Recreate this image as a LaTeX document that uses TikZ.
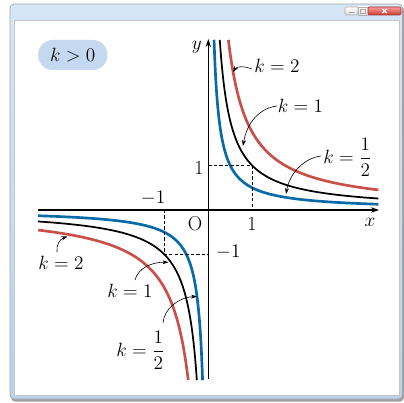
\documentclass[tikz,border=0pt]{standalone}
\usepackage{amsmath}
\usetikzlibrary{arrows.meta}
\definecolor{kred}{RGB}{200,80,75}
\definecolor{kblue}{RGB}{8,106,166}
\definecolor{pill}{RGB}{196,216,240}
\definecolor{frameblue}{RGB}{186,210,236}
\definecolor{frametop}{RGB}{214,230,247}
\definecolor{closered}{RGB}{196,64,52}
\newcommand\hypcurve[3]{%
  \draw[#3] plot[variable=\t,domain=-#2:#2,samples=140] ({208.3+44.2*sqrt(#1)*exp(\t)},{210-44.2*sqrt(#1)*exp(-\t)});
  \draw[#3] plot[variable=\t,domain=-#2:#2,samples=140] ({208.3-44.2*sqrt(#1)*exp(\t)},{210+44.2*sqrt(#1)*exp(-\t)});
}
\begin{document}
\begin{tikzpicture}[x=0.75pt,y=-0.75pt,
  lab/.style={font=\fontsize{13.5}{16}\selectfont, inner sep=0pt},
  num/.style={font=\fontsize{15}{18}\selectfont, inner sep=0pt},
  ptr/.style={line width=0.45pt, -{Stealth[length=4.5pt,width=3pt]}},
  axisline/.style={line width=0.8pt, -{Stealth[length=6pt,width=4pt]}},
  guide/.style={line width=0.55pt, dash pattern=on 2.5pt off 1.6pt},
  curvered/.style={kred, line width=2pt},
  curveblack/.style={black, line width=1.3pt},
  curveblue/.style={kblue, line width=2pt},
  winbtn/.style={top color=white, bottom color=gray!30, draw=gray!60},
]
\useasboundingbox (0,0) rectangle (404,403);
% window frame
\fill[gray!75, rounded corners=3pt] (11,6) rectangle (404,401.5);
\shade[top color=frametop, bottom color=frameblue, draw=gray!70, line width=0.5pt, rounded corners=3pt] (10,4) rectangle (402.5,399);
\fill[white, draw=gray!45, line width=0.5pt] (14,20) rectangle (399.5,395);
% window buttons
\shade[winbtn, rounded corners=1pt] (345,7) rectangle (358,15);
\shade[winbtn] (358,7) rectangle (368,15);
\shade[top color=red!40!white, bottom color=closered, draw=closered!80!black, rounded corners=1pt] (368,7) rectangle (401,15);
\draw[gray!70, line width=0.8pt] (349,12.5) -- (354,12.5);
\draw[gray!70, line width=0.6pt] (360.5,9) rectangle (365.5,13);
\draw[white, line width=0.9pt] (382.5,9) -- (386.5,13) (382.5,13) -- (386.5,9);
% badge
\node[fill=pill, rounded corners=11pt, minimum width=52pt, minimum height=22.5pt, inner sep=0pt,
      font=\fontsize{14.5}{17}\selectfont] (badge) at (72.8,55) {$k>0$};
% curves
\hypcurve{1.75}{1.068}{curvered}
\hypcurve{1}{1.348}{curveblack}
\hypcurve{0.5}{1.695}{curveblue}
% axes
\coordinate (xs) at (38,210); \coordinate (xe) at (379,210);
\coordinate (ys) at (208.3,379); \coordinate (ye) at (208.3,39);
\draw[axisline] (xs) -- (xe);
\draw[axisline] (ys) -- (ye);
% guides
\coordinate (p01) at (208.3,165.8); \coordinate (p11) at (252.5,165.8); \coordinate (p10) at (252.5,210);
\coordinate (pm0) at (164.1,210); \coordinate (pmm) at (164.1,254.2); \coordinate (p0m) at (208.3,254.2);
\draw[guide] (p01) -- (p11) -- (p10);
\draw[guide] (pm0) -- (pmm) -- (p0m);
% axis labels
\node[lab] (ylab) at (196.7,47) {$y$};
\node[lab, font=\fontsize{15}{18}\selectfont] (xlab) at (370,222.5) {$x$};
\node[num] (olab) at (195,224) {O};
\node[num] (one1) at (252,223.5) {1};
\node[num] (one2) at (199,167.5) {1};
\node[num] (mone1) at (153,198.3) {$-1$};
\node[num] (mone2) at (228.3,252.5) {$-1$};
% curve labels
\node[lab] (k2a) at (277,66) {$k=2$};
\node[lab] (k1a) at (300.5,105.5) {$k=1$};
\node[lab, anchor=west] (kha) at (323,157) {$k=\dfrac{1}{2}$};
\node[lab] (k2b) at (61,263) {$k=2$};
\node[lab] (k1b) at (130,291) {$k=1$};
\node[lab, anchor=west] (khb) at (116,350) {$k=\dfrac{1}{2}$};
% pointers
\coordinate (t1) at (252,69);  \coordinate (h1) at (233,72);
\coordinate (t2) at (277,106); \coordinate (h2) at (243,146);
\coordinate (t3) at (321,156); \coordinate (h3) at (286,194);
\coordinate (t4) at (57,252);  \coordinate (h4) at (67.5,236.5);
\coordinate (t5) at (135,280); \coordinate (h5) at (168.5,262.3);
\coordinate (t6) at (163,323); \coordinate (h6) at (197,296.5);
\draw[ptr] (t1) .. controls (244,66) and (237,66) .. (h1);
\draw[ptr] (t2) .. controls (260,108) and (247,122) .. (h2);
\draw[ptr] (t3) .. controls (305,158) and (290,172) .. (h3);
\draw[ptr] (t4) .. controls (56,245) and (60,239) .. (h4);
\draw[ptr] (t5) .. controls (138,268) and (152,262) .. (h5);
\draw[ptr] (t6) .. controls (164,308) and (180,297) .. (h6);
\end{tikzpicture}
\end{document}
